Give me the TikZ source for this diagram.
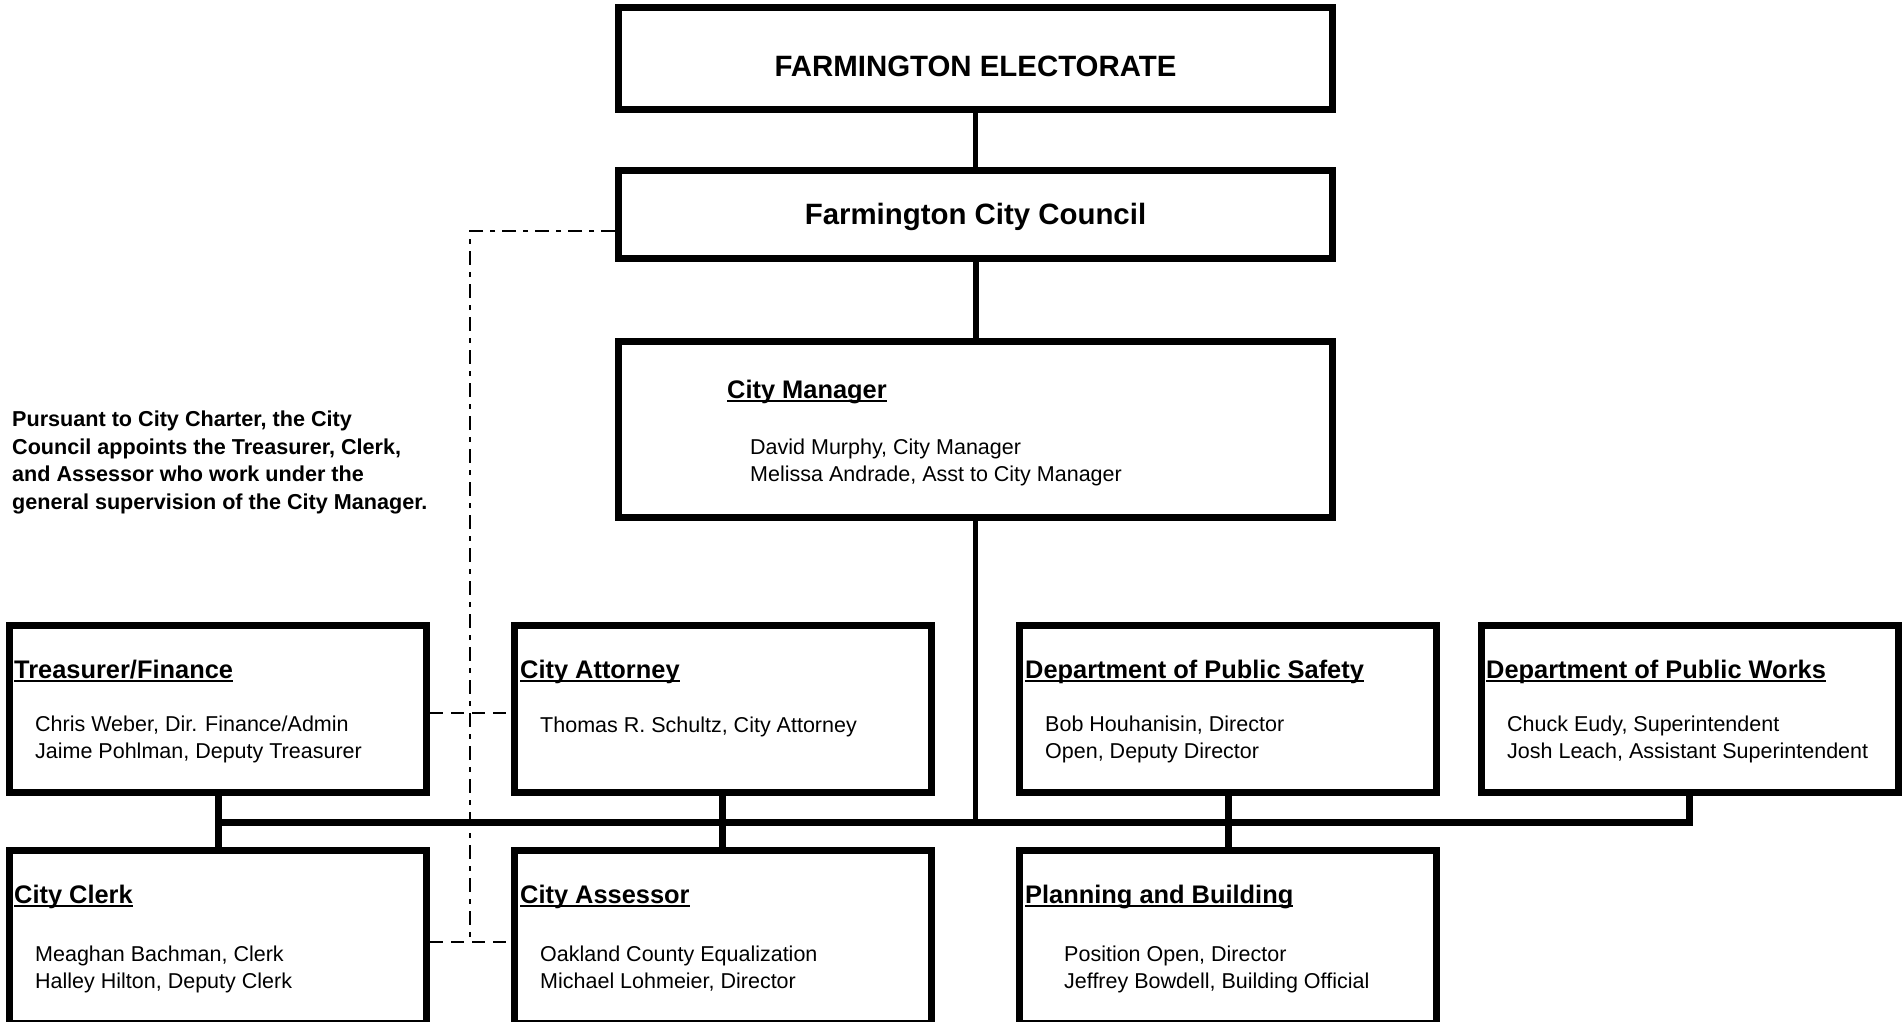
\documentclass[tikz,border=0pt]{standalone}
\usepackage{fontspec}
\setmainfont{Liberation Sans}
\usepackage{tikz}
\newcommand\hdline[1]{\setbox0=\hbox{#1}\rlap{\rule[-4.3pt]{\wd0}{2.2pt}}\box0}
\tikzset{
  office/.style={draw, line width=7pt, inner sep=0pt, minimum width=417pt, minimum height=167pt},
  link/.style={line width=7pt},
  appoint/.style={line width=2pt, dash pattern=on 14pt off 7pt on 5pt off 7pt},
  stub/.style={line width=2pt, dash pattern=on 13pt off 8pt},
  title/.style={anchor=base, inner sep=0pt, font=\fontsize{29.4}{35}\selectfont\bfseries},
  hdr/.style={anchor=base west, inner sep=0pt, font=\fontsize{25.4}{30}\selectfont\bfseries},
  names/.style={anchor=base west, inner sep=0pt, align=left, font=\fontsize{21.5}{26.3}\selectfont},
  note/.style={anchor=base west, inner sep=0pt, align=left, font=\fontsize{21.6}{27.5}\selectfont\bfseries}
}
\begin{document}
\begin{tikzpicture}[x=1pt,y=-1pt]
\fill[white] (0,0) rectangle (1904,1021);
\useasboundingbox (0,0) rectangle (1904,1021);

\node[office, minimum width=714pt, minimum height=102pt] (elect) at (975.5,58.5) {};
\node[office, minimum width=714pt, minimum height=88pt] (council) at (975.5,214.5) {};
\node[office, minimum width=714pt, minimum height=176pt] (mgr) at (975.5,429.5) {};
\node[office] (treas) at (218,709) {};
\node[office] (atty) at (722.5,709) {};
\node[office] (safety) at (1228,709) {};
\node[office] (works) at (1689.5,709) {};
\node[office, minimum height=173pt] (clerk) at (218,937) {};
\node[office, minimum height=173pt] (assess) at (722.5,937) {};
\node[office, minimum height=173pt] (plan) at (1228,937) {};

\node[title] (electT) at (975.5,76) {FARMINGTON ELECTORATE};
\node[title] (councilT) at (975.5,224) {Farmington City Council};
\node[hdr] (mgrH) at (727,398) {\hdline{City Manager}};
\node[names] (mgrN) at (750,481) {David Murphy, City Manager\\Melissa Andrade, Asst to City Manager};

\node[hdr] (treasH) at (14,678) {\hdline{Treasurer/Finance}};
\node[names] (treasN) at (35,758) {Chris Weber, Dir. Finance/Admin\\Jaime Pohlman, Deputy Treasurer};
\node[hdr] (attyH) at (520,678) {\hdline{City Attorney}};
\node[names] (attyN) at (540,732) {Thomas R. Schultz, City Attorney};
\node[hdr] (safetyH) at (1025,678) {\hdline{Department of Public Safety}};
\node[names] (safetyN) at (1045,758) {Bob Houhanisin, Director\\Open, Deputy Director};
\node[hdr] (worksH) at (1486,678) {\hdline{Department of Public Works}};
\node[names] (worksN) at (1507,758) {Chuck Eudy, Superintendent\\Josh Leach, Assistant Superintendent};

\node[hdr] (clerkH) at (14,903) {\hdline{City Clerk}};
\node[names] (clerkN) at (35,988) {Meaghan Bachman, Clerk\\Halley Hilton, Deputy Clerk};
\node[hdr] (assessH) at (520,903) {\hdline{City Assessor}};
\node[names] (assessN) at (540,988) {Oakland County Equalization\\Michael Lohmeier, Director};
\node[hdr] (planH) at (1025,903) {\hdline{Planning and Building}};
\node[names] (planN) at (1064,988) {Position Open, Director\\Jeffrey Bowdell, Building Official};

\node[note] (charter) at (12,509) {Pursuant to City Charter, the City\\Council appoints the Treasurer, Clerk,\\and Assessor who work under the\\general supervision of the City Manager.};

\coordinate (bus) at (975,822);
\coordinate (dtop) at (470,231);
\coordinate (dbot) at (470,942);
\coordinate (tstub) at (470,713);

\draw[link, line width=4.5pt] (elect) -- (council);
\draw[link, line width=6pt] (council) -- (mgr);
\draw[link, line width=5pt] (mgr) -- (mgr |- bus);
\draw[link, line cap=rect] (treas |- bus) -- (works |- bus);
\draw[link] (treas) -- (clerk);
\draw[link] (atty) -- (assess);
\draw[link] (safety) -- (plan);
\draw[link] (works) -- (works |- bus);
\draw[appoint] (council.west |- dtop) -- (dtop) -- (dbot);
\draw[stub] (treas.east |- tstub) -- (atty.west |- tstub);
\draw[stub] (clerk.east |- dbot) -- (assess.west |- dbot);
\end{tikzpicture}
\end{document}
